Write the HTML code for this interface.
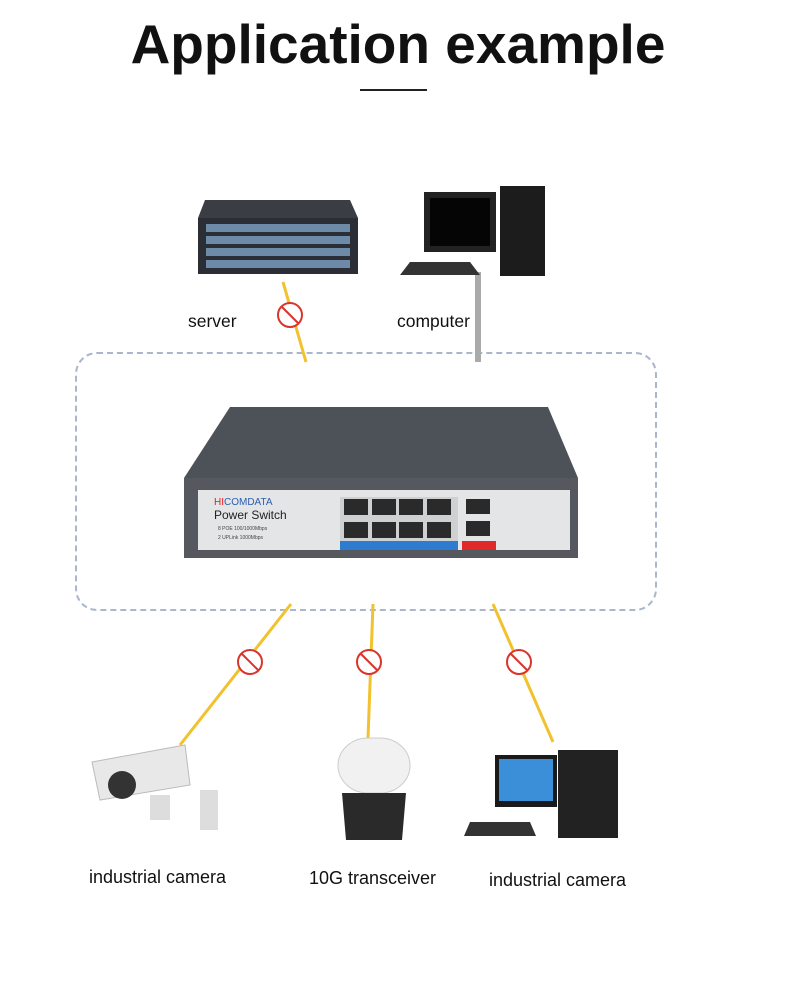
<!DOCTYPE html>
<html><head><style>
body{margin:0;background:#fff;}
.w{position:relative;width:800px;height:983px;overflow:hidden;font-family:"Liberation Sans",sans-serif;}
.t{position:absolute;color:#111;}
</style></head><body><div class="w">
<div class="t" style="left:0;width:796px;top:12px;text-align:center;font-size:55px;font-weight:bold;">Application example</div>
<div style="position:absolute;left:360px;top:89px;width:67px;height:2px;background:#222"></div>
<div style="position:absolute;left:75px;top:352px;width:578px;height:255px;border:2px dashed #a9b6cc;border-radius:22px;"></div>
<svg width="800" height="983" style="position:absolute;left:0;top:0">
<g stroke="#f2c12e" stroke-width="3">
<line x1="283" y1="282" x2="306" y2="362"/>
<line x1="291" y1="604" x2="180" y2="745"/>
<line x1="373" y1="604" x2="368" y2="738"/>
<line x1="493" y1="604" x2="553" y2="742"/>
</g>
<line x1="478" y1="272" x2="478" y2="362" stroke="#aaa" stroke-width="6"/>
<g fill="#fff" stroke="#d9352b" stroke-width="2">
<circle cx="290" cy="315" r="12"/><line x1="282" y1="307" x2="298" y2="323"/>
<circle cx="250" cy="662" r="12"/><line x1="242" y1="654" x2="258" y2="670"/>
<circle cx="369" cy="662" r="12"/><line x1="361" y1="654" x2="377" y2="670"/>
<circle cx="519" cy="662" r="12"/><line x1="511" y1="654" x2="527" y2="670"/>
</g>
<polygon points="205,200 350,200 358,218 198,218" fill="#3a3d44"/>
<rect x="198" y="218" width="160" height="56" fill="#2b2e35"/>
<g fill="#6d8aa8"><rect x="206" y="224" width="144" height="8"/><rect x="206" y="236" width="144" height="8"/><rect x="206" y="248" width="144" height="8"/><rect x="206" y="260" width="144" height="8"/></g>
<rect x="424" y="192" width="72" height="60" fill="#222"/><rect x="430" y="198" width="60" height="48" fill="#050505"/>
<rect x="500" y="186" width="45" height="90" fill="#1c1c1c"/>
<polygon points="410,262 470,262 480,275 400,275" fill="#333"/>
<polygon points="230,407 548,407 578,478 184,478" fill="#4d5158"/>
<rect x="184" y="478" width="394" height="80" fill="#55595f"/>
<rect x="198" y="490" width="372" height="60" fill="#e4e5e7"/>
<rect x="340" y="497" width="118" height="44" fill="#cfd0d2"/>
<g fill="#2a2a2a"><rect x="344" y="499" width="24" height="16"/><rect x="372" y="499" width="24" height="16"/><rect x="399" y="499" width="24" height="16"/><rect x="427" y="499" width="24" height="16"/>
<rect x="344" y="522" width="24" height="16"/><rect x="372" y="522" width="24" height="16"/><rect x="399" y="522" width="24" height="16"/><rect x="427" y="522" width="24" height="16"/>
<rect x="466" y="499" width="24" height="15" /><rect x="466" y="521" width="24" height="15"/></g>
<rect x="340" y="541" width="118" height="9" fill="#2e7cd0"/><rect x="462" y="541" width="34" height="9" fill="#e02a2a"/>
<text x="214" y="505" font-size="10" fill="#d22" font-family="Liberation Sans">HI<tspan fill="#2c5fb0">COMDATA</tspan></text>
<text x="214" y="519" font-size="12" fill="#222" font-family="Liberation Sans">Power Switch</text>
<text x="218" y="530" font-size="5" fill="#444" font-family="Liberation Sans">8 POE 100/1000Mbps</text>
<text x="218" y="539" font-size="5" fill="#444" font-family="Liberation Sans">2 UPLink 1000Mbps</text>
<path d="M92,762 L185,745 L190,785 L100,800 Z" fill="#e8e8e8" stroke="#bbb"/>
<circle cx="122" cy="785" r="14" fill="#333"/>
<rect x="150" y="795" width="20" height="25" fill="#ddd"/><rect x="200" y="790" width="18" height="40" fill="#ddd"/>
<rect x="338" y="738" width="72" height="55" rx="30" fill="#f1f1f1" stroke="#ccc"/>
<path d="M342,793 L406,793 L402,840 L346,840 Z" fill="#2a2a2a"/>
<rect x="495" y="755" width="62" height="52" fill="#1a1a1a"/><rect x="499" y="759" width="54" height="42" fill="#3a8fd8"/>
<rect x="558" y="750" width="60" height="88" fill="#222"/>
<polygon points="470,822 530,822 536,836 464,836" fill="#333"/>
</svg>
<div class="t" style="left:188px;top:311px;font-size:17.5px">server</div>
<div class="t" style="left:397px;top:311px;font-size:17.5px">computer</div>
<div class="t" style="left:89px;top:867px;font-size:18px">industrial camera</div>
<div class="t" style="left:309px;top:868px;font-size:18px">10G transceiver</div>
<div class="t" style="left:489px;top:870px;font-size:18px">industrial camera</div>
</div></body></html>
